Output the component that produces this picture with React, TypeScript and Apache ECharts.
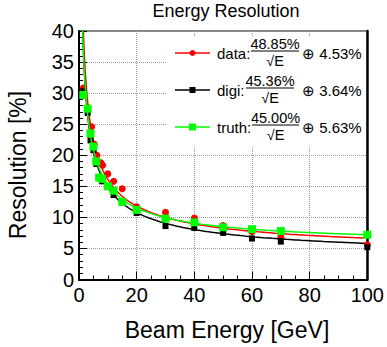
import React, { useEffect, useRef } from "react";
import * as echarts from "echarts";

// Beam energies [GeV] and resolutions [%] for each sample
const dataE = [1.5, 3, 4.4, 5.3, 6.2, 7.6, 8.2, 10, 12, 15, 20, 30, 40, 50, 60, 70, 100];
const dataRes = [30.8, 27.7, 24.6, 21.8, 20.0, 18.8, 18.4, 17.0, 15.8, 14.6, 11.7, 10.8, 9.9, 8.7, 7.7, 6.8, 5.6];
const digiE = [1.5, 3, 4, 5, 6, 7, 8, 10, 12, 15, 20, 30, 40, 50, 60, 70, 100];
const digiRes = [30.3, 26.8, 22.4, 20.8, 18.6, 16.4, 15.8, 15.0, 13.6, 12.4, 10.7, 8.6, 8.3, 7.5, 6.6, 6.1, 5.2];
const truthE = [1.5, 3, 4, 5, 6, 7, 8, 10, 12, 15, 20, 30, 40, 50, 60, 70, 100];
const truthRes = [29.7, 27.5, 23.5, 21.4, 19.0, 16.4, 16.2, 15.0, 14.3, 12.5, 11.2, 9.8, 9.2, 8.4, 8.1, 7.8, 7.2];

// Fit parameters shown in the legend: sigma/E = a/sqrt(E) (+) b
const seriesNames = ["data", "digi", "truth"];
const fitStoch = [48.85, 45.36, 45.0];
const fitConst = [4.53, 3.64, 5.63];
const colors = ["#ff0000", "#000000", "#00ff00"];

const xTicks = [0, 20, 40, 60, 80, 100];
const yTicks = [0, 5, 10, 15, 20, 25, 30, 35, 40];

const FONT = "Liberation Sans, Arial, Helvetica, sans-serif";

function sampleEnergies(): number[] {
  const out: number[] = [];
  let e = 1;
  while (e <= 100.0001) {
    out.push(+e.toFixed(3));
    e += e < 5 ? 0.05 : e < 20 ? 0.25 : 1;
  }
  return out;
}

function fitCurve(a: number, b: number): number[][] {
  return sampleEnergies().map((e) => [e, Math.sqrt((a * a) / e + b * b)]);
}

function pairs(xs: number[], ys: number[]): number[][] {
  return xs.map((x, i) => [x, ys[i]]);
}

export default function App() {
  const ref = useRef<HTMLDivElement>(null);
  useEffect(() => {
    if (!ref.current) return;
    const chart = echarts.init(ref.current, undefined, { renderer: "svg" });
    const points = [pairs(dataE, dataRes), pairs(digiE, digiRes), pairs(truthE, truthRes)];
    const symbols = ["circle", "rect", "rect"];
    const sizes = [7, 6, 8];
    const series: any[] = [];
    for (let i = 0; i < 3; i++) {
      series.push({
        type: "line",
        name: seriesNames[i] + " fit",
        data: fitCurve(fitStoch[i], fitConst[i]),
        showSymbol: false,
        symbol: "none",
        clip: true,
        lineStyle: { color: colors[i], width: 1.5 },
        z: 2 + i * 2,
      });
      series.push({
        type: "scatter",
        name: seriesNames[i],
        data: points[i],
        symbol: symbols[i],
        symbolSize: sizes[i],
        itemStyle: { color: colors[i], opacity: 1 },
        z: 3 + i * 2,
      });
    }

    const legendGraphics: any[] = [
      { type: "rect", shape: { x: 167, y: 37, width: 199, height: 110 }, style: { fill: "#fff" }, z: 100 },
    ];
    const numX = [251, 246, 252];
    const numW = [48, 48, 47];
    for (let i = 0; i < 3; i++) {
      const cy = 53 + 37 * i;
      legendGraphics.push({
        type: "line",
        shape: { x1: 175, y1: cy, x2: 210, y2: cy },
        style: { stroke: colors[i], lineWidth: 1.5 },
        z: 101,
      });
      if (i === 0) {
        legendGraphics.push({ type: "circle", shape: { cx: 192.5, cy, r: 3 }, style: { fill: colors[i] }, z: 102 });
      } else {
        const s = i === 1 ? 6 : 7;
        legendGraphics.push({ type: "rect", shape: { x: 192.5 - s / 2, y: cy - s / 2, width: s, height: s }, style: { fill: colors[i] }, z: 102 });
      }
      legendGraphics.push({
        type: "text",
        x: 217,
        y: cy,
        style: { text: seriesNames[i] + ":", fontSize: 15, fontFamily: FONT, fill: "#000", verticalAlign: "middle", align: "left" },
        z: 102,
      });
      legendGraphics.push({
        type: "text",
        x: numX[i] + numW[i] / 2,
        y: cy - 2,
        style: { text: fitStoch[i].toFixed(2) + "%", fontSize: 14.5, fontFamily: FONT, fill: "#000", verticalAlign: "bottom", align: "center" },
        z: 102,
      });
      legendGraphics.push({
        type: "line",
        shape: { x1: numX[i], y1: cy - 2, x2: numX[i] + numW[i], y2: cy - 2 },
        style: { stroke: "#000", lineWidth: 1 },
        z: 102,
      });
      legendGraphics.push({
        type: "text",
        x: numX[i] + numW[i] / 2,
        y: cy,
        style: { text: "√E", fontSize: 14.5, fontFamily: FONT, fill: "#000", verticalAlign: "top", align: "center" },
        z: 102,
      });
      legendGraphics.push({
        type: "text",
        x: 302,
        y: cy,
        style: { text: "⊕ " + fitConst[i].toFixed(2) + "%", fontSize: 15, fontFamily: FONT, fill: "#000", verticalAlign: "middle", align: "left" },
        z: 102,
      });
    }

    chart.setOption({
      animation: false,
      backgroundColor: "#fff",
      grid: {
        left: 79,
        right: 19,
        top: 31,
        bottom: 67.5,
        show: true,
        borderColor: "#000",
        borderWidth: 1,
      },
      xAxis: {
        type: "value",
        min: xTicks[0],
        max: xTicks[xTicks.length - 1],
        interval: 20,
        axisLine: { show: true, onZero: false, lineStyle: { color: "#000", width: 2 } },
        axisTick: { show: true, inside: true, length: 8, lineStyle: { color: "#000", width: 1 } },
        minorTick: { show: true, splitNumber: 4, length: 4, lineStyle: { color: "#000", width: 1 } },
        splitLine: { show: true, lineStyle: { color: "#999", type: "dotted", width: 1 } },
        axisLabel: { fontSize: 20, color: "#000", fontFamily: FONT, margin: 5, showMaxLabel: true },
      },
      yAxis: [
        {
          type: "value",
          min: yTicks[0],
          max: yTicks[yTicks.length - 1],
          interval: 5,
          axisLine: { show: true, onZero: false, lineStyle: { color: "#000", width: 2 } },
          axisTick: { show: true, inside: true, length: 8, lineStyle: { color: "#000", width: 1 } },
          minorTick: { show: true, splitNumber: 5, length: 4, lineStyle: { color: "#000", width: 1 } },
          splitLine: { show: true, lineStyle: { color: "#999", type: "dotted", width: 1 } },
          axisLabel: { fontSize: 20, color: "#000", fontFamily: FONT, margin: 5 },
        },
        {
          type: "value",
          position: "right",
          min: 0,
          max: 40,
          interval: 5,
          axisLine: { show: true, onZero: false, lineStyle: { color: "#000", width: 2.5 } },
          axisTick: { show: false },
          axisLabel: { show: false },
          splitLine: { show: false },
        },
      ],
      graphic: [
        {
          type: "text",
          x: 226,
          y: 11,
          style: { text: "Energy Resolution", fontSize: 18, fontFamily: FONT, fill: "#000", align: "center", verticalAlign: "middle" },
        },
        {
          type: "text",
          x: 227,
          y: 330,
          style: { text: "Beam Energy [GeV]", fontSize: 23, fontFamily: FONT, fill: "#000", align: "center", verticalAlign: "middle" },
        },
        {
          type: "text",
          x: 18,
          y: 165,
          rotation: Math.PI / 2,
          style: { text: "Resolution [%]", fontSize: 23, fontFamily: FONT, fill: "#000", align: "center", verticalAlign: "middle" },
        },
        ...legendGraphics,
      ],
      series,
    });
    return () => chart.dispose();
  }, []);
  return <div ref={ref} style={{ position: "fixed", left: 0, top: 0, width: 387, height: 347 }} />;
}
